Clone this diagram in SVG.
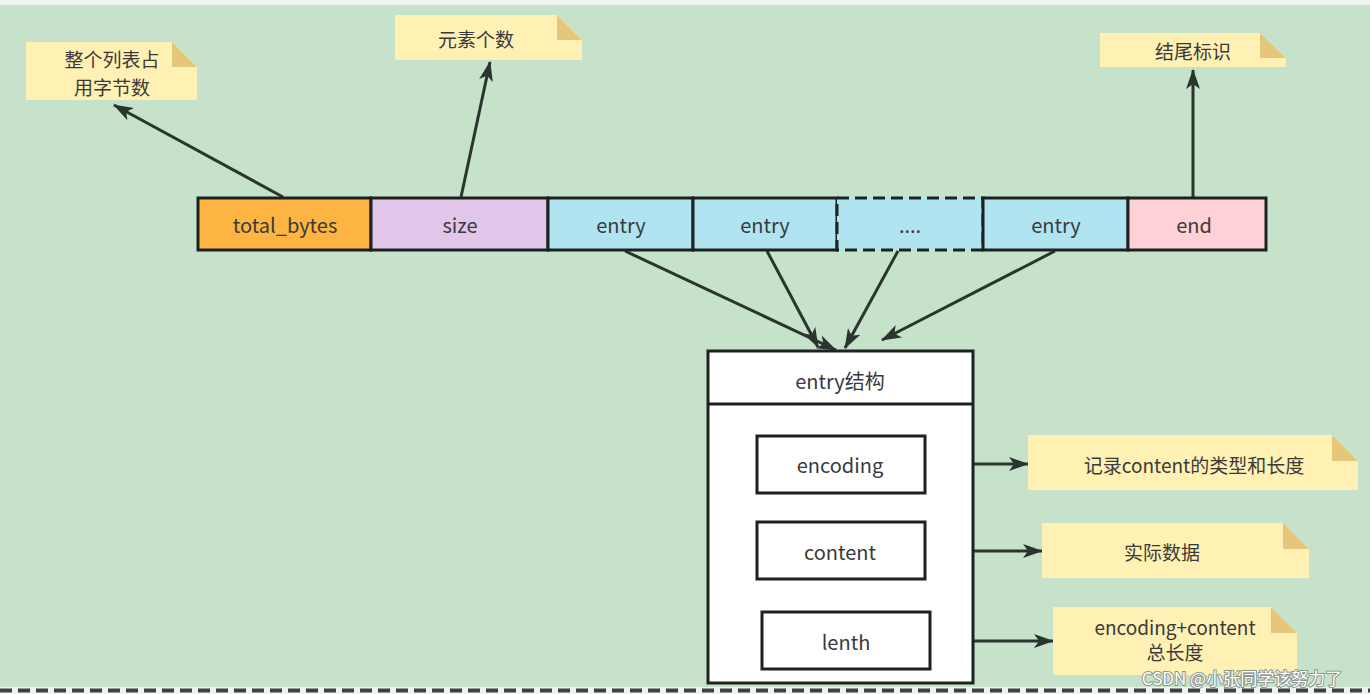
<svg xmlns="http://www.w3.org/2000/svg" width="1370" height="694" viewBox="0 0 1370 694">
  <defs>
    <marker id="arrow" markerUnits="userSpaceOnUse" markerWidth="20" markerHeight="14" refX="19" refY="7" orient="auto">
      <path d="M0,0 L20,7 L0,14 L5,7 Z" fill="#2b3530"/>
    </marker>
  </defs>
  <style>
    text { font-family: "Noto Sans CJK SC", "Noto Sans", sans-serif; fill: #3a3a3a; text-anchor: middle; dominant-baseline: central; }
    .cell { stroke: #1c2222; stroke-width: 3; }
    .box { fill: #ffffff; stroke: #1c2222; stroke-width: 3; }
    .note { fill: #fff0b4; }
    .fold { fill: #e6c77a; }
    .link { stroke: #2b3530; stroke-width: 3; fill: none; marker-end: url(#arrow); }
    .t20 { font-size: 20px; }
    .t19 { font-size: 19px; }
    .mark { font-size: 17px; fill: #ffffff; stroke: #8c9690; stroke-width: 2; paint-order: stroke; }
  </style>

  <!-- canvas -->
  <rect width="1370" height="694" fill="#c6e2cb"/>
  <rect width="1370" height="5" fill="#eef4ef"/>
  <rect y="687" width="1370" height="7" fill="#eef4ef"/>
  <line x1="0" y1="690.5" x2="1370" y2="690.5" stroke="#3c4440" stroke-width="4" stroke-dasharray="12 6"/>

  <!-- connectors -->
  <g id="connectors">
    <line class="link" x1="283" y1="197" x2="114" y2="105"/>
    <line class="link" x1="461" y1="197" x2="490" y2="62"/>
    <line class="link" x1="1193" y1="197" x2="1193" y2="70"/>
    <line class="link" x1="625" y1="251" x2="836" y2="350"/>
    <line class="link" x1="767" y1="251" x2="818" y2="347"/>
    <line class="link" x1="898" y1="251" x2="845" y2="348"/>
    <line class="link" x1="1055" y1="251" x2="882" y2="340"/>
    <line class="link" x1="926" y1="464" x2="1028" y2="464"/>
    <line class="link" x1="926" y1="551" x2="1042" y2="551"/>
    <line class="link" x1="931" y1="641" x2="1053" y2="641"/>
  </g>

  <!-- list cells -->
  <g id="cell-total-bytes">
    <rect class="cell" x="198" y="198" width="173" height="52" fill="#fdb443"/>
    <text class="t20" x="285" y="224">total_bytes</text>
  </g>
  <g id="cell-size">
    <rect class="cell" x="371" y="198" width="177" height="52" fill="#e2c6ea"/>
    <text class="t20" x="460" y="224">size</text>
  </g>
  <g id="cell-entry-1">
    <rect class="cell" x="548" y="198" width="145" height="52" fill="#b0e4f1"/>
    <text class="t20" x="621" y="224">entry</text>
  </g>
  <g id="cell-entry-2">
    <rect class="cell" x="693" y="198" width="144" height="52" fill="#b0e4f1"/>
    <text class="t20" x="765" y="224">entry</text>
  </g>
  <g id="cell-ellipsis">
    <rect x="837" y="198" width="146" height="52" fill="#b0e4f1" stroke="#1c2222" stroke-width="3" stroke-dasharray="12 6"/>
    <text class="t20" x="910" y="224">....</text>
  </g>
  <g id="cell-entry-n">
    <rect class="cell" x="983" y="198" width="145" height="52" fill="#b0e4f1"/>
    <text class="t20" x="1056" y="224">entry</text>
  </g>
  <g id="cell-end">
    <rect class="cell" x="1128" y="198" width="138" height="52" fill="#ffd0d5"/>
    <text class="t20" x="1194" y="224">end</text>
  </g>

  <!-- notes -->
  <g id="note-total-bytes">
    <path class="note" d="M26,42 H172 L197,67 V100 H26 Z"/>
    <path class="fold" d="M172,42 L197,67 H172 Z"/>
    <text class="t19" x="112" y="58">整个列表占</text>
    <text class="t19" x="112" y="86">用字节数</text>
  </g>
  <g id="note-size">
    <path class="note" d="M395,15 H557 L582,40 V60 H395 Z"/>
    <path class="fold" d="M557,15 L582,40 H557 Z"/>
    <text class="t19" x="476" y="38">元素个数</text>
  </g>
  <g id="note-end">
    <path class="note" d="M1100,33 H1260 L1286,58 V67 H1100 Z"/>
    <path class="fold" d="M1260,33 L1286,58 H1260 Z"/>
    <text class="t19" x="1193" y="50">结尾标识</text>
  </g>
  <g id="note-encoding">
    <path class="note" d="M1028,435 H1332 L1358,461 V490 H1028 Z"/>
    <path class="fold" d="M1332,435 L1358,461 H1332 Z"/>
    <text class="t19" x="1194" y="464">记录content的类型和长度</text>
  </g>
  <g id="note-content">
    <path class="note" d="M1042,523 H1283 L1309,549 V578 H1042 Z"/>
    <path class="fold" d="M1283,523 L1309,549 H1283 Z"/>
    <text class="t19" x="1162" y="551">实际数据</text>
  </g>
  <g id="note-lenth">
    <path class="note" d="M1053,607 H1271 L1297,633 V675 H1053 Z"/>
    <path class="fold" d="M1271,607 L1297,633 H1271 Z"/>
    <text class="t19" x="1175" y="626">encoding+content</text>
    <text class="t19" x="1175" y="651">总长度</text>
  </g>

  <!-- entry structure -->
  <g id="entry-struct">
    <rect class="box" x="708" y="351" width="265" height="332"/>
    <line x1="708" y1="404" x2="973" y2="404" stroke="#1c2222" stroke-width="3"/>
    <text class="t20" x="840" y="380">entry结构</text>
  </g>
  <g id="field-encoding">
    <rect class="box" x="757" y="436" width="168" height="57"/>
    <text class="t20" x="840" y="464">encoding</text>
  </g>
  <g id="field-content">
    <rect class="box" x="757" y="522" width="168" height="57"/>
    <text class="t20" x="840" y="551">content</text>
  </g>
  <g id="field-lenth">
    <rect class="box" x="762" y="612" width="168" height="57"/>
    <text class="t20" x="846" y="641">lenth</text>
  </g>

  <!-- watermark -->
  <text class="mark" x="1242" y="677">CSDN @小张同学该努力了</text>
</svg>
